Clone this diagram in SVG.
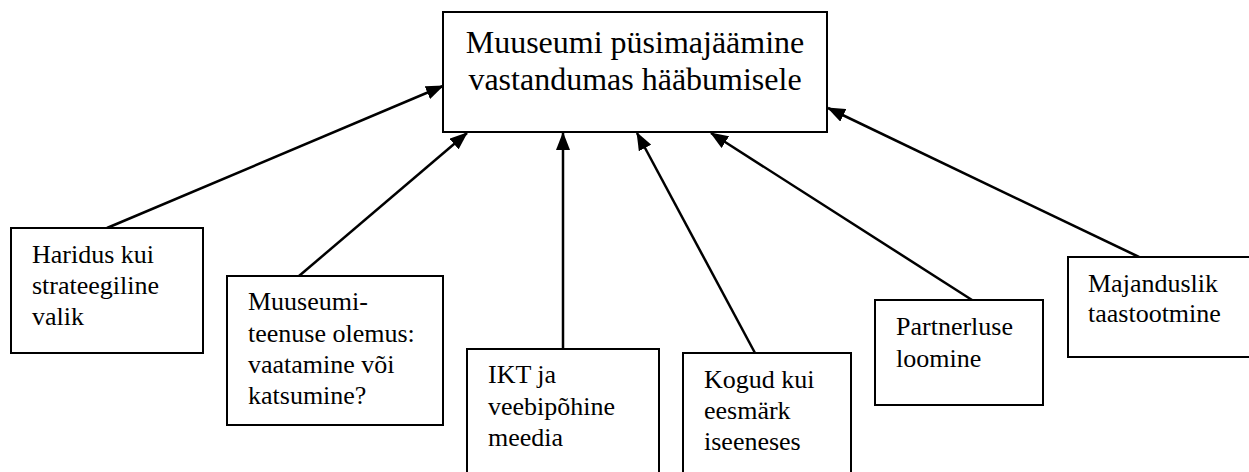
<svg xmlns="http://www.w3.org/2000/svg" width="1249" height="472" viewBox="0 0 1249 472">
<style>
.box{fill:#fff;stroke:#000;stroke-width:2}
.t{font-family:"Liberation Serif","Times New Roman",serif;font-size:26px;fill:#000}
.main{font-family:"Liberation Serif","Times New Roman",serif;font-size:32px;fill:#000;text-anchor:middle}
.c{stroke:#000;stroke-width:2.5;fill:none;marker-end:url(#ah)}
</style>
<defs>
<marker id="ah" markerUnits="userSpaceOnUse" markerWidth="18" markerHeight="14" viewBox="0 0 18 14" refX="17" refY="7" orient="auto">
<path d="M0,0 L18,7 L0,14 Z" fill="#000"/>
</marker>
</defs>
<rect width="1249" height="472" fill="#fff"/>
<g id="connectors">
<path class="c" d="M107,228 L443,86"/>
<path class="c" d="M299,276 L467,133"/>
<path class="c" d="M563,349 L563,133"/>
<path class="c" d="M755,353 L637,133"/>
<path class="c" d="M972,300 L711,133"/>
<path class="c" d="M1139,257 L828,108"/>
</g>
<g id="main">
<rect class="box" x="443" y="12" width="384" height="120"/>
<text class="main" x="635" y="53">Muuseumi püsimajäämine</text>
<text class="main" x="635" y="90">vastandumas hääbumisele</text>
</g>
<g id="haridus">
<rect class="box" x="11" y="228" width="192" height="125"/>
<text class="t" x="32" y="263">Haridus kui</text>
<text class="t" x="32" y="294">strateegiline</text>
<text class="t" x="32" y="325">valik</text>
</g>
<g id="muuseumiteenus">
<rect class="box" x="227" y="276" width="216" height="149"/>
<text class="t" x="248" y="310">Muuseumi-</text>
<text class="t" x="248" y="342">teenuse olemus:</text>
<text class="t" x="248" y="373">vaatamine või</text>
<text class="t" x="248" y="404">katsumine?</text>
</g>
<g id="ikt">
<rect class="box" x="467" y="349" width="192" height="140"/>
<text class="t" x="488" y="383">IKT ja</text>
<text class="t" x="488" y="415">veebipõhine</text>
<text class="t" x="488" y="446">meedia</text>
</g>
<g id="kogud">
<rect class="box" x="683" y="353" width="168" height="140"/>
<text class="t" x="704" y="388">Kogud kui</text>
<text class="t" x="704" y="419">eesmärk</text>
<text class="t" x="704" y="450">iseeneses</text>
</g>
<g id="partnerlus">
<rect class="box" x="875" y="300" width="168" height="105"/>
<text class="t" x="896" y="335">Partnerluse</text>
<text class="t" x="896" y="367">loomine</text>
</g>
<g id="majanduslik">
<rect class="box" x="1068" y="257" width="200" height="100"/>
<text class="t" x="1088" y="292">Majanduslik</text>
<text class="t" x="1088" y="322">taastootmine</text>
</g>
</svg>
